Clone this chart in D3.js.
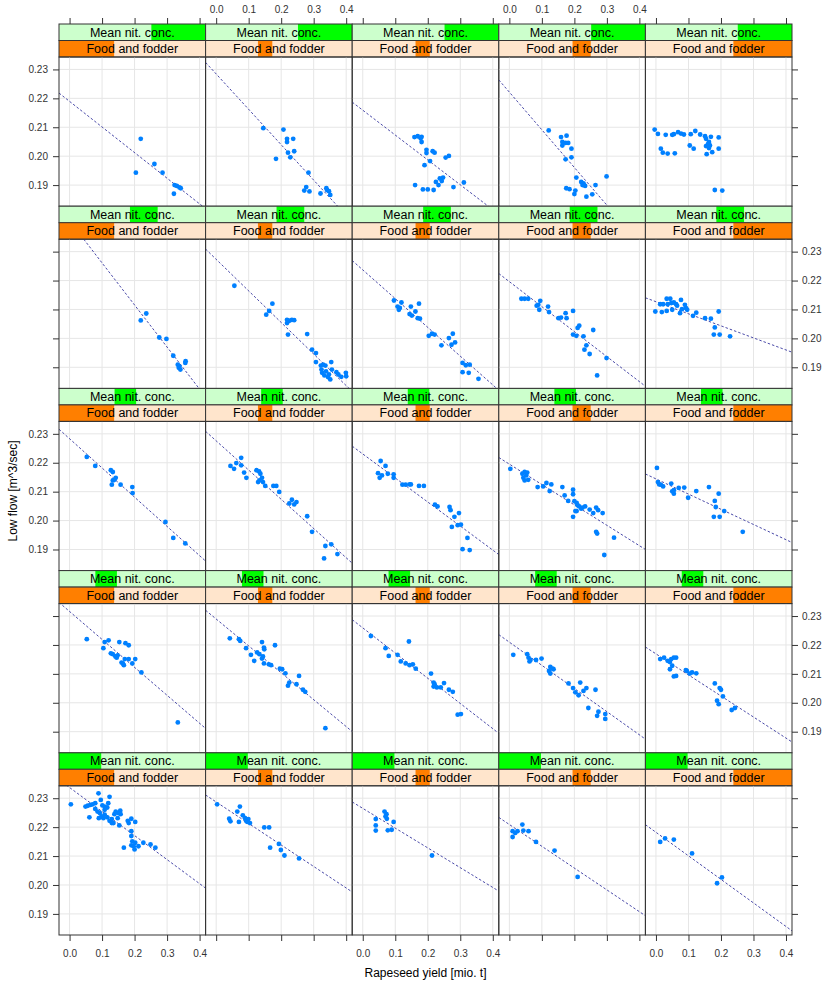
<!DOCTYPE html>
<html>
<head>
<meta charset="utf-8">
<script src="https://cdn.jsdelivr.net/npm/d3@7/dist/d3.min.js"></script>
<style>
  body { margin: 0; background: #fff; }
  svg { display: block; font-family: "Liberation Sans", Arial, sans-serif; }
</style>
</head>
<body>
<svg id="chart" width="826" height="982"></svg>
<script>
// ---- data -------------------------------------------------------------
const xTicks = [0, 0.1, 0.2, 0.3, 0.4];
const yTicks = [0.19, 0.20, 0.21, 0.22, 0.23];
const xTitle = "Rapeseed yield [mio. t]";
const yTitle = "Low flow [m^3/sec]";
const foodLabel = "Food and fodder";
const nitLabel = "Mean nit. conc.";

// shingle intervals (fraction of the variable's range), one per column
const foodShingle = [[0.0, 0.376], [0.357, 0.455], [0.432, 0.529], [0.503, 0.627], [0.60, 1.0]];
// shingle intervals, one per row (top row first)
const nitShingle = [[0.63, 1.0], [0.484, 0.673], [0.379, 0.526], [0.248, 0.395], [0.0, 0.288]];

// least-squares fits per panel, row-major from the top-left panel
const fitIntercept = [
  0.21895, 0.22844, 0.21590, 0.22214, null,
  0.24064, 0.22734, 0.22369, 0.21962, 0.21268,
  0.22831, 0.22758, 0.22304, 0.21952, 0.21442,
  0.23158, 0.22897, 0.22591, 0.22096, 0.21692,
  0.23371, 0.22871, 0.22650, 0.22091, 0.21822
];
const fitSlope = [
  -0.0886, -0.1224, -0.0860, -0.1303, null,
  -0.1455, -0.1092, -0.09946, -0.08643, -0.04171,
  -0.1011, -0.1011, -0.08312, -0.07051, -0.05257,
  -0.09666, -0.09299, -0.08716, -0.0801, -0.07282,
  -0.08314, -0.07436, -0.06838, -0.07537, -0.08141
];

// [yield, low flow] observations, one list per panel
const pointsRow1 = [
  [[0.219,0.2060],[0.204,0.1943],[0.261,0.1973],[0.286,0.1943],[0.323,0.1900],[0.330,0.1897],[0.338,0.1892],[0.342,0.1889],[0.321,0.1870]],
  [[0.145,0.2097],[0.207,0.2092],[0.218,0.2060],[0.237,0.2060],[0.218,0.2049],[0.221,0.2012],[0.240,0.2017],[0.228,0.1996],[0.184,0.1991],[0.284,0.1943],[0.277,0.1893],[0.271,0.1881],[0.287,0.1878],[0.321,0.1871],[0.339,0.1889],[0.347,0.1879],[0.351,0.1866],[0.341,0.1883]],
  [[0.159,0.2066],[0.169,0.2069],[0.181,0.2067],[0.178,0.2062],[0.181,0.2049],[0.196,0.2022],[0.196,0.2011],[0.215,0.2017],[0.221,0.2012],[0.207,0.1983],[0.190,0.1969],[0.255,0.1995],[0.265,0.2001],[0.161,0.1900],[0.185,0.1885],[0.200,0.1885],[0.218,0.1883],[0.233,0.1900],[0.225,0.1911],[0.237,0.1923],[0.247,0.1926],[0.243,0.1914],[0.279,0.1893],[0.311,0.1909]],
  [[0.121,0.2089],[0.159,0.2066],[0.176,0.2071],[0.163,0.2049],[0.173,0.2046],[0.181,0.2046],[0.163,0.2037],[0.191,0.2026],[0.191,0.1996],[0.173,0.1989],[0.206,0.1926],[0.221,0.1911],[0.228,0.1906],[0.225,0.1900],[0.233,0.1897],[0.175,0.1889],[0.185,0.1886],[0.203,0.1881],[0.200,0.1869],[0.237,0.1860],[0.255,0.1868],[0.265,0.1900],[0.299,0.1930]],
  [[-0.004,0.2092],[0.006,0.2077],[0.030,0.2074],[0.050,0.2074],[0.055,0.2076],[0.068,0.2083],[0.077,0.2078],[0.086,0.2075],[0.107,0.2076],[0.121,0.2087],[0.136,0.2075],[0.151,0.2069],[0.154,0.2060],[0.169,0.2067],[0.193,0.2065],[0.015,0.2026],[0.021,0.2012],[0.036,0.2009],[0.058,0.2010],[0.104,0.2037],[0.116,0.2026],[0.154,0.2035],[0.160,0.2042],[0.163,0.2028],[0.173,0.2014],[0.156,0.2007],[0.193,0.2026],[0.181,0.1883],[0.204,0.1881],[0.163,0.2049],[0.166,0.2037]]
];
const pointsRow2 = [
  [[0.219,0.2062],[0.236,0.2086],[0.276,0.2003],[0.298,0.1998],[0.319,0.1940],[0.333,0.1909],[0.338,0.1903],[0.341,0.1892],[0.336,0.1898],[0.357,0.1921],[0.356,0.1915]],
  [[0.056,0.2182],[0.173,0.2120],[0.163,0.2095],[0.154,0.2082],[0.218,0.2064],[0.225,0.2061],[0.233,0.2064],[0.240,0.2063],[0.218,0.2053],[0.221,0.2013],[0.280,0.2015],[0.295,0.1961],[0.307,0.1949],[0.307,0.1918],[0.322,0.1906],[0.329,0.1909],[0.336,0.1906],[0.324,0.1892],[0.326,0.1881],[0.333,0.1872],[0.344,0.1866],[0.347,0.1875],[0.354,0.1918],[0.356,0.1892],[0.370,0.1883],[0.376,0.1875],[0.385,0.1867],[0.399,0.1881],[0.400,0.1869],[0.351,0.1858],[0.338,0.1886]],
  [[0.096,0.2131],[0.119,0.2124],[0.107,0.2110],[0.111,0.2099],[0.148,0.2110],[0.173,0.2120],[0.162,0.2093],[0.144,0.2084],[0.151,0.2079],[0.169,0.2070],[0.176,0.2068],[0.203,0.2009],[0.213,0.2016],[0.221,0.2013],[0.242,0.1976],[0.265,0.2001],[0.277,0.2016],[0.284,0.1986],[0.273,0.1978],[0.307,0.1915],[0.317,0.1907],[0.329,0.1909],[0.307,0.1883],[0.326,0.1881],[0.356,0.1860],[0.114,0.2105]],
  [[0.037,0.2137],[0.047,0.2137],[0.058,0.2137],[0.095,0.2130],[0.084,0.2113],[0.092,0.2099],[0.119,0.2110],[0.122,0.2091],[0.151,0.2070],[0.159,0.2072],[0.173,0.2087],[0.176,0.2070],[0.196,0.2095],[0.196,0.2013],[0.206,0.2009],[0.215,0.2044],[0.210,0.2036],[0.228,0.2007],[0.258,0.2029],[0.237,0.1976],[0.231,0.1961],[0.247,0.1946],[0.299,0.1932],[0.270,0.1872],[0.089,0.2116]],
  [[-0.002,0.2093],[0.013,0.2118],[0.022,0.2118],[0.033,0.2137],[0.044,0.2137],[0.036,0.2118],[0.018,0.2091],[0.033,0.2095],[0.055,0.2124],[0.050,0.2099],[0.062,0.2118],[0.077,0.2133],[0.080,0.2101],[0.092,0.2105],[0.089,0.2116],[0.096,0.2099],[0.074,0.2087],[0.114,0.2078],[0.124,0.2089],[0.151,0.2070],[0.169,0.2068],[0.193,0.2093],[0.181,0.2038],[0.178,0.2013],[0.196,0.2013],[0.228,0.2007],[0.047,0.2122],[0.065,0.2113]]
];
const pointsRow3 = [
  [[0.053,0.2220],[0.079,0.2189],[0.127,0.2174],[0.133,0.2168],[0.142,0.2148],[0.133,0.2139],[0.130,0.2124],[0.157,0.2124],[0.193,0.2116],[0.194,0.2095],[0.295,0.1995],[0.319,0.1940],[0.356,0.1921],[0.138,0.2141]],
  [[0.044,0.2189],[0.055,0.2179],[0.062,0.2199],[0.077,0.2217],[0.077,0.2191],[0.086,0.2166],[0.093,0.2148],[0.124,0.2174],[0.132,0.2170],[0.141,0.2148],[0.129,0.2133],[0.144,0.2133],[0.136,0.2162],[0.151,0.2120],[0.176,0.2120],[0.185,0.2120],[0.194,0.2099],[0.225,0.2059],[0.233,0.2072],[0.240,0.2056],[0.247,0.2064],[0.280,0.2015],[0.295,0.1961],[0.336,0.1912],[0.354,0.1918],[0.332,0.1869],[0.373,0.1884],[0.133,0.2139]],
  [[0.055,0.2206],[0.070,0.2189],[0.047,0.2164],[0.052,0.2148],[0.077,0.2162],[0.095,0.2160],[0.095,0.2148],[0.122,0.2124],[0.132,0.2124],[0.144,0.2125],[0.148,0.2125],[0.173,0.2120],[0.188,0.2120],[0.222,0.2055],[0.230,0.2049],[0.267,0.2047],[0.270,0.2036],[0.282,0.2013],[0.296,0.2026],[0.292,0.1984],[0.274,0.1978],[0.302,0.1986],[0.322,0.1940],[0.307,0.1901],[0.329,0.1898],[0.059,0.2156]],
  [[0.003,0.2179],[0.040,0.2162],[0.047,0.2168],[0.052,0.2156],[0.055,0.2166],[0.043,0.2148],[0.058,0.2141],[0.047,0.2139],[0.087,0.2116],[0.104,0.2118],[0.114,0.2130],[0.129,0.2125],[0.124,0.2102],[0.163,0.2116],[0.170,0.2087],[0.181,0.2068],[0.196,0.2107],[0.196,0.2091],[0.200,0.2067],[0.207,0.2061],[0.215,0.2049],[0.203,0.2033],[0.207,0.2033],[0.196,0.2013],[0.221,0.2041],[0.233,0.2049],[0.247,0.2038],[0.258,0.2026],[0.267,0.2045],[0.273,0.2036],[0.287,0.2026],[0.267,0.1961],[0.270,0.1955],[0.322,0.1941],[0.292,0.1881],[0.210,0.2053],[0.225,0.2045]],
  [[0.003,0.2182],[0.006,0.2133],[0.010,0.2125],[0.022,0.2118],[0.015,0.2124],[0.047,0.2128],[0.050,0.2101],[0.055,0.2093],[0.055,0.2105],[0.070,0.2113],[0.087,0.2114],[0.099,0.2079],[0.124,0.2102],[0.163,0.2116],[0.181,0.2068],[0.193,0.2093],[0.184,0.2047],[0.210,0.2033],[0.178,0.2013],[0.196,0.2013],[0.267,0.1961]]
];
const pointsRow4 = [
  [[0.053,0.2220],[0.104,0.2189],[0.108,0.2210],[0.120,0.2216],[0.127,0.2171],[0.133,0.2168],[0.141,0.2160],[0.148,0.2164],[0.145,0.2156],[0.153,0.2210],[0.172,0.2206],[0.182,0.2199],[0.164,0.2136],[0.167,0.2130],[0.170,0.2151],[0.182,0.2151],[0.193,0.2136],[0.202,0.2151],[0.221,0.2105],[0.333,0.1932],[0.160,0.2139]],
  [[0.042,0.2223],[0.070,0.2220],[0.074,0.2214],[0.092,0.2189],[0.107,0.2166],[0.117,0.2145],[0.126,0.2174],[0.133,0.2168],[0.141,0.2210],[0.144,0.2160],[0.147,0.2191],[0.148,0.2185],[0.141,0.2153],[0.147,0.2136],[0.162,0.2133],[0.169,0.2130],[0.181,0.2199],[0.196,0.2118],[0.203,0.2116],[0.213,0.2102],[0.225,0.2070],[0.221,0.2059],[0.247,0.2064],[0.255,0.2093],[0.267,0.2045],[0.274,0.2038],[0.336,0.1912]],
  [[0.025,0.2231],[0.070,0.2189],[0.080,0.2162],[0.107,0.2166],[0.117,0.2143],[0.132,0.2136],[0.144,0.2130],[0.154,0.2133],[0.163,0.2118],[0.142,0.2212],[0.210,0.2101],[0.218,0.2070],[0.218,0.2056],[0.228,0.2053],[0.240,0.2053],[0.250,0.2068],[0.265,0.2045],[0.277,0.2038],[0.292,0.1959],[0.302,0.1961],[0.221,0.2064]],
  [[0.012,0.2166],[0.055,0.2168],[0.059,0.2156],[0.062,0.2143],[0.082,0.2148],[0.099,0.2153],[0.065,0.2148],[0.126,0.2124],[0.133,0.2118],[0.126,0.2101],[0.136,0.2116],[0.182,0.2067],[0.196,0.2051],[0.203,0.2036],[0.213,0.2026],[0.218,0.2070],[0.228,0.2041],[0.237,0.2051],[0.265,0.2045],[0.243,0.1982],[0.270,0.1955],[0.274,0.1969],[0.295,0.1961],[0.295,0.1944],[0.122,0.2110]],
  [[0.013,0.2151],[0.025,0.2156],[0.036,0.2145],[0.043,0.2141],[0.047,0.2151],[0.055,0.2156],[0.062,0.2156],[0.050,0.2128],[0.043,0.2116],[0.062,0.2093],[0.055,0.2091],[0.092,0.2113],[0.104,0.2101],[0.111,0.2105],[0.124,0.2102],[0.095,0.2110],[0.181,0.2067],[0.196,0.2051],[0.200,0.2045],[0.206,0.2022],[0.188,0.2007],[0.193,0.1995],[0.233,0.1975],[0.243,0.1982]]
];
const pointsRow5 = [
  [[0.004,0.2279],[0.049,0.2271],[0.056,0.2274],[0.071,0.2279],[0.079,0.2283],[0.089,0.2317],[0.096,0.2294],[0.101,0.2275],[0.108,0.2271],[0.116,0.2268],[0.123,0.2305],[0.119,0.2283],[0.079,0.2263],[0.086,0.2254],[0.093,0.2249],[0.098,0.2237],[0.061,0.2234],[0.090,0.2231],[0.108,0.2243],[0.116,0.2234],[0.123,0.2222],[0.130,0.2228],[0.138,0.2245],[0.142,0.2254],[0.150,0.2249],[0.156,0.2257],[0.148,0.2231],[0.130,0.2214],[0.153,0.2206],[0.157,0.2245],[0.179,0.2222],[0.182,0.2214],[0.190,0.2229],[0.202,0.2218],[0.190,0.2186],[0.190,0.2169],[0.193,0.2151],[0.202,0.2146],[0.197,0.2134],[0.200,0.2123],[0.190,0.2137],[0.212,0.2134],[0.227,0.2146],[0.249,0.2140],[0.264,0.2129],[0.167,0.2129],[0.104,0.2231],[0.135,0.2214],[0.108,0.2260],[0.064,0.2277]],
  [[0.003,0.2279],[0.040,0.2229],[0.044,0.2220],[0.065,0.2254],[0.073,0.2271],[0.070,0.2218],[0.082,0.2241],[0.089,0.2231],[0.092,0.2222],[0.099,0.2228],[0.104,0.2214],[0.096,0.2218],[0.148,0.2199],[0.163,0.2199],[0.166,0.2129],[0.193,0.2142],[0.199,0.2121],[0.210,0.2102],[0.255,0.2092]],
  [[0.040,0.2228],[0.040,0.2206],[0.040,0.2188],[0.067,0.2254],[0.073,0.2245],[0.070,0.2237],[0.074,0.2229],[0.077,0.2189],[0.089,0.2191],[0.095,0.2218],[0.213,0.2102]],
  [[0.010,0.2186],[0.018,0.2180],[0.010,0.2166],[0.040,0.2209],[0.043,0.2188],[0.059,0.2186],[0.082,0.2149],[0.139,0.2119],[0.210,0.2028],[0.025,0.2186]],
  [[0.013,0.2149],[0.028,0.2161],[0.055,0.2157],[0.111,0.2109],[0.188,0.2006],[0.203,0.2026]]
];
const panelPoints = [].concat(pointsRow1, pointsRow2, pointsRow3, pointsRow4, pointsRow5);

// ---- layout -----------------------------------------------------------
const nCols = 5, nRows = 5;
const plotLeft = 59, plotRight = 792, plotTop = 24, plotBottom = 935;
const colW = (plotRight - plotLeft) / nCols;
const rowH = (plotBottom - plotTop) / nRows;
const stripH = 16.5;
const panelH = rowH - 2 * stripH;
const xDomain = [-0.0325, 0.4185];
const yDomain = [0.1827, 0.2343];
const borderCol = "#333";
const tickFmt = d3.format(".1f");
const yFmt = d3.format(".2f");

const svg = d3.select("#chart");
const defs = svg.append("defs");

const x = d3.scaleLinear().domain(xDomain).range([0, colW]);
const y = d3.scaleLinear().domain(yDomain).range([panelH, 0]);

defs.append("clipPath").attr("id", "panel-clip")
  .append("rect").attr("x", 0).attr("y", 0).attr("width", colW).attr("height", panelH);

function styleAxis(g) {
  g.select(".domain").remove();
  g.selectAll(".tick line").attr("stroke", borderCol);
  g.selectAll(".tick text").attr("fill", "#333").attr("font-size", 10)
    .attr("font-family", "Liberation Sans, Arial, sans-serif");
}

for (let r = 0; r < nRows; r++) {
  for (let c = 0; c < nCols; c++) {
    const idx = r * nCols + c;
    const left = plotLeft + c * colW;
    const stripTop = plotTop + r * rowH;
    const top = stripTop + 2 * stripH;

    // strips: nitrogen shingle on top, food-and-fodder shingle below
    const strips = [
      { y0: stripTop, bg: "#ccffcc", fg: "#00ff00", range: nitShingle[r], label: nitLabel },
      { y0: stripTop + stripH, bg: "#ffe5cc", fg: "#ff7f00", range: foodShingle[c], label: foodLabel }
    ];
    const sg = svg.append("g").attr("transform", `translate(${left},0)`);
    strips.forEach(s => {
      sg.append("rect").attr("x", 0).attr("y", s.y0).attr("width", colW).attr("height", stripH)
        .attr("fill", s.bg);
      sg.append("rect").attr("x", s.range[0] * colW).attr("y", s.y0)
        .attr("width", (s.range[1] - s.range[0]) * colW).attr("height", stripH)
        .attr("fill", s.fg);
      sg.append("text").attr("x", colW / 2).attr("y", s.y0 + stripH / 2 + 4.3)
        .attr("text-anchor", "middle").attr("font-size", 12.5).attr("fill", "#000")
        .text(s.label);
      sg.append("rect").attr("x", 0).attr("y", s.y0).attr("width", colW).attr("height", stripH)
        .attr("fill", "none").attr("stroke", borderCol).attr("stroke-width", 1);
    });

    // panel
    const pg = svg.append("g").attr("transform", `translate(${left},${top})`);
    const grid = pg.append("g").attr("stroke", "#e6e6e6").attr("stroke-width", 1);
    grid.selectAll("line.v").data(xTicks).join("line").attr("class", "v")
      .attr("x1", d => x(d)).attr("x2", d => x(d)).attr("y1", 0).attr("y2", panelH);
    grid.selectAll("line.h").data(yTicks).join("line").attr("class", "h")
      .attr("x1", 0).attr("x2", colW).attr("y1", d => y(d)).attr("y2", d => y(d));

    const inner = pg.append("g").attr("clip-path", "url(#panel-clip)");
    if (fitIntercept[idx] !== null) {
      const a = fitIntercept[idx], b = fitSlope[idx];
      inner.append("line")
        .attr("x1", x(xDomain[0])).attr("y1", y(a + b * xDomain[0]))
        .attr("x2", x(xDomain[1])).attr("y2", y(a + b * xDomain[1]))
        .attr("stroke", "#4a4aa8").attr("stroke-width", 1)
        .attr("stroke-dasharray", "2.5,2");
    }
    inner.selectAll("circle").data(panelPoints[idx]).join("circle")
      .attr("cx", d => x(d[0])).attr("cy", d => y(d[1])).attr("r", 2.4)
      .attr("fill", "#0080ff");

    pg.append("rect").attr("x", 0).attr("y", 0).attr("width", colW).attr("height", panelH)
      .attr("fill", "none").attr("stroke", borderCol).attr("stroke-width", 1);

    // outer axes, labels alternating between sides
    if (r === 0) {
      const ax = d3.axisTop(x).tickValues(xTicks).tickSize(6).tickPadding(5)
        .tickFormat(c % 2 === 1 ? tickFmt : () => "");
      svg.append("g").attr("transform", `translate(${left},${stripTop})`).call(ax).call(styleAxis);
    }
    if (r === nRows - 1) {
      const ax = d3.axisBottom(x).tickValues(xTicks).tickSize(6).tickPadding(9)
        .tickFormat(c % 2 === 0 ? tickFmt : () => "");
      svg.append("g").attr("transform", `translate(${left},${top + panelH})`).call(ax).call(styleAxis);
    }
    if (c === 0) {
      const ay = d3.axisLeft(y).tickValues(yTicks).tickSize(6).tickPadding(5)
        .tickFormat(r % 2 === 0 ? yFmt : () => "");
      svg.append("g").attr("transform", `translate(${left},${top})`).call(ay).call(styleAxis);
    }
    if (c === nCols - 1) {
      const ay = d3.axisRight(y).tickValues(yTicks).tickSize(6).tickPadding(4)
        .tickFormat(r % 2 === 1 ? yFmt : () => "");
      svg.append("g").attr("transform", `translate(${left + colW},${top})`).call(ay).call(styleAxis);
    }
  }
}

// axis titles
svg.append("text").attr("x", (plotLeft + plotRight) / 2).attr("y", 977)
  .attr("text-anchor", "middle").attr("font-size", 12).attr("fill", "#000").text(xTitle);
svg.append("text").attr("transform", `translate(17,491) rotate(-90)`)
  .attr("text-anchor", "middle").attr("font-size", 12).attr("fill", "#000").text(yTitle);
</script>
</body>
</html>
